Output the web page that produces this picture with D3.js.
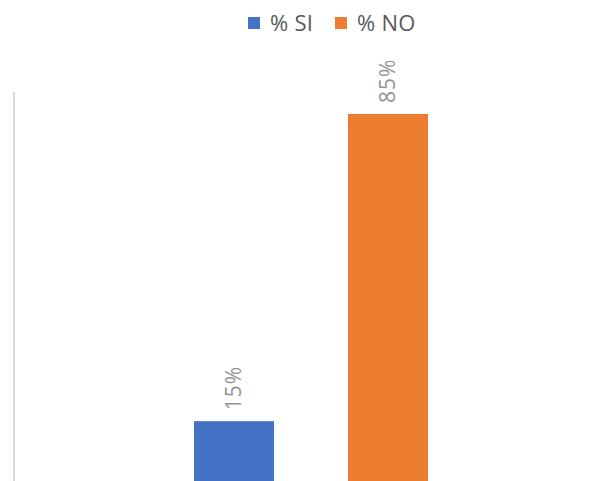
<!DOCTYPE html>
<html>
<head>
<meta charset="utf-8">
<script src="https://cdn.jsdelivr.net/npm/d3@7"></script>
<style>
  body { margin: 0; background: #fff; }
</style>
</head>
<body>
<div id="chart"></div>
<script>
const W = 597
const H = 481

const series = ["% SI", "% NO"]
const values = [0.15, 0.85]
const colors = ["#4472c4", "#ed7d31"]

const svg = d3.select("#chart")
    .append("svg")
    .attr("width", W)
    .attr("height", H)

const x = d3.scaleBand()
    .domain(series)
    .range([117, 505])
    .paddingInner(0.48)
    .paddingOuter(0.5)

const y = d3.scaleLinear()
    .domain([0, 0.9])
    .range([487, 92])

// vertical axis line only
svg.append("line")
    .attr("x1", 14).attr("x2", 14)
    .attr("y1", y(0.9)).attr("y2", H)
    .attr("stroke", "#d9d9d9")
    .attr("stroke-width", 2)

svg.selectAll("rect.bar")
    .data(series)
    .join("rect")
    .attr("class", "bar")
    .attr("x", d => x(d))
    .attr("width", x.bandwidth())
    .attr("y", (d, i) => y(values[i]))
    .attr("height", (d, i) => y(0) - y(values[i]))
    .attr("fill", (d, i) => colors[i])

const fmt = d3.format(".0%")

svg.selectAll("text.lbl")
    .data(series)
    .join("text")
    .attr("class", "lbl")
    .attr("transform", (d, i) => `translate(${x(d) + x.bandwidth() / 2 + 7}, ${y(values[i]) - 11}) rotate(-90)`)
    .attr("text-anchor", "start")
    .attr("font-family", "'Open Sans', sans-serif")
    .attr("font-size", 21)
    .attr("letter-spacing", 1)
    .attr("fill", "#939393")
    .text((d, i) => fmt(values[i]))

// legend
const legend = svg.append("g")
const legX = [248, 335]
series.forEach((s, i) => {
    legend.append("rect")
        .attr("x", legX[i]).attr("y", 17)
        .attr("width", 12).attr("height", 12)
        .attr("fill", colors[i])
    legend.append("text")
        .attr("x", legX[i] + 22).attr("y", 31)
        .attr("font-family", "'Open Sans', sans-serif")
        .attr("font-size", 22)
        .attr("letter-spacing", 0.3)
        .attr("fill", "#595959")
        .text(s)
})
</script>
</body>
</html>
